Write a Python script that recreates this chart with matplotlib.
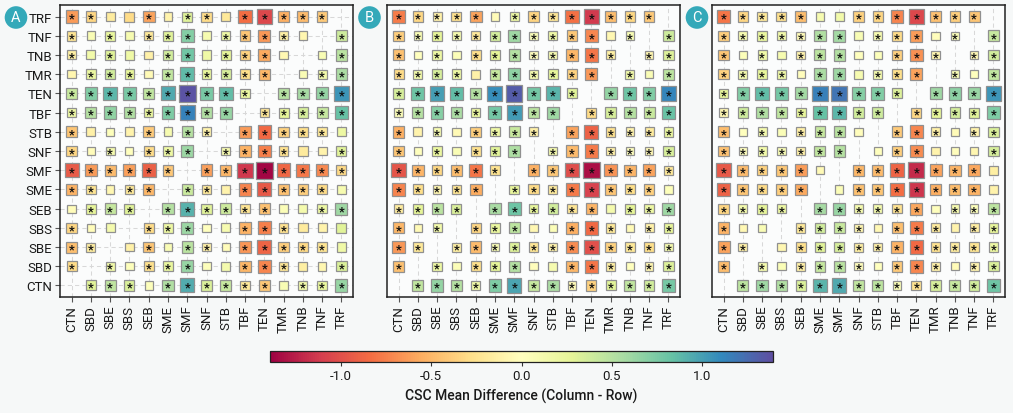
import numpy as np
import matplotlib
matplotlib.use('Agg')
import matplotlib.pyplot as plt
from matplotlib.patches import Rectangle, Circle
from matplotlib.transforms import offset_copy
import matplotlib.colors as mcolors
import matplotlib.cm as cm

plt.rcParams['font.family'] = ['Roboto', 'DejaVu Sans']
plt.rcParams['axes.unicode_minus'] = False

categories = ['CTN', 'SBD', 'SBE', 'SBS', 'SEB', 'SME', 'SMF', 'SNF',
              'STB', 'TBF', 'TEN', 'TMR', 'TNB', 'TNF', 'TRF']

means_A = [0.42, 0.72, 0.88, 0.75, 0.45, 0.95, 1.36, 0.75, 0.85, 0.22, 0.00, 0.50, 0.57, 0.65, 1.05]
means_B = [0.35, 0.80, 1.00, 0.85, 0.52, 1.08, 1.32, 0.78, 0.90, 0.30, 0.00, 0.65, 0.80, 0.72, 1.12]
means_C = [0.25, 0.72, 0.85, 0.78, 0.58, 1.15, 1.20, 0.70, 0.72, 0.32, 0.00, 0.60, 0.68, 0.62, 1.05]

# Significance marks, rows from top (TRF) to bottom (CTN); columns CTN..TRF
sig_A = ["**..*.**.*****-",
         "*.*.***.****.-*",
         "*.*..**.***.-.*",
         ".***.******-.**",
         "**********-****",
         "*********-*****",
         "*...*.**-*****.",
         "*.*.***-****..*",
         "******-********",
         "**.**-**.*****.",
         ".***-******..**",
         "*..-***..***...",
         "**-.*.**.*****.",
         "*-*.***..***..*",
         "-***.******.***"]
sig_B = ["*****.********-",
         "***********.*-*",
         "*.*.********-**",
         "****.******-*.*",
         "**********-****",
         "*********-*****",
         "*.*.****-******",
         "*.*.***-*******",
         "******-********",
         "*****-********.",
         "****-******.***",
         "*.*-***..***.**",
         "**-************",
         "*-*.***..***.**",
         "-**************"]
sig_C = ["*****..*******-",
         "*******.***.*-*",
         "*.*.***..***-**",
         "****.**.***-*.*",
         "**********-****",
         "*********-*****",
         "*.*.***.-***.**",
         "*******-.**...*",
         "*****.-*******.",
         "*****-.*******.",
         "****-******.***",
         "*..-****.***.**",
         "**-.***********",
         "*-*.****.***.**",
         "-**************"]

panel_letters = ['A', 'B', 'C']
cbar_ticks = [-1.0, -0.5, 0.0, 0.5, 1.0]

W, H = 1013, 414
fig = plt.figure(figsize=(W / 100, H / 100), dpi=100)
fig.patch.set_facecolor('#f6f8f8')

cmap = plt.get_cmap('Spectral')
norm = mcolors.Normalize(vmin=-1.39, vmax=1.39)

lefts = [60, 387, 712]
badge_x = [16, 369.5, 697]
ax_w, ax_top, ax_bot = 293, 6, 298
n = len(categories)

for k, (means, sig, letter) in enumerate(zip([means_A, means_B, means_C],
                                             [sig_A, sig_B, sig_C],
                                             panel_letters)):
    ax = fig.add_axes([lefts[k] / W, 1 - ax_bot / H, ax_w / W, (ax_bot - ax_top) / H])
    ax.set_facecolor('#fbfcfc')
    m = np.array(means)
    diff = m[None, :] - m[:, None]  # column - row
    trans = offset_copy(ax.transData, fig=fig, x=0, y=-1.3, units='points')
    for r in range(n):
        row_sig = sig[n - 1 - r]
        for c in range(n):
            if r == c:
                continue
            v = diff[r, c]
            s = 0.42 + 0.33 * abs(v)
            ax.add_patch(Rectangle((c - s / 2, r - s / 2), s, s,
                                   facecolor=cmap(norm(v)), edgecolor='#909090',
                                   linewidth=0.9, zorder=3))
            if row_sig[c] == '*':
                ax.text(c, r, '*', ha='center', va='center', fontsize=9,
                        fontweight='bold', color='#111111', transform=trans, zorder=4)
    ax.set_xlim(-0.6, n - 0.4)
    ax.set_ylim(-0.6, n - 0.4)
    ax.set_xticks(range(n))
    ax.set_xticklabels(categories, rotation=90, fontsize=9.5, color='#1a1a1a')
    ax.set_yticks(range(n))
    if k == 0:
        ax.set_yticklabels(categories, fontsize=9.5, color='#1a1a1a')
        ax.tick_params(axis='y', length=3.5, width=0.8, color='#555555', pad=2)
        ax.grid(True, axis='both', linestyle=(0, (4, 3)), color='#d8d8d8', linewidth=0.75, zorder=0)
    else:
        ax.set_yticklabels([])
        ax.tick_params(axis='y', length=0)
        ax.grid(True, axis='x', linestyle=(0, (4, 3)), color='#d8d8d8', linewidth=0.75, zorder=0)
    ax.tick_params(axis='x', length=3.5, width=0.8, color='#555555', pad=2)
    ax.set_axisbelow(True)
    for sp in ax.spines.values():
        sp.set_color('#222222')
        sp.set_linewidth(1.1)

    # panel letter badge
    cx = badge_x[k] / 100
    cy = (H - 18.5) / 100
    fig.add_artist(Circle((cx, cy), 0.113, transform=fig.dpi_scale_trans,
                          facecolor='#34a9b9', edgecolor='none', zorder=10))
    fig.text(cx, cy, letter, transform=fig.dpi_scale_trans, ha='center', va='center',
             color='white', fontsize=10.5, zorder=11)

# colorbar
cax = fig.add_axes([270 / W, 1 - 363 / H, 503 / W, 11 / H])
sm = cm.ScalarMappable(norm=norm, cmap=cmap)
cb = fig.colorbar(sm, cax=cax, orientation='horizontal')
cb.set_ticks(cbar_ticks)
cb.set_ticklabels([f'{t:.1f}' for t in cbar_ticks])
cb.ax.tick_params(labelsize=9.5, length=3, width=0.8, color='#333333', labelcolor='#1a1a1a', pad=2)
cb.outline.set_linewidth(0.9)
cb.outline.set_edgecolor('#222222')
cb.set_label('CSC Mean Difference (Column - Row)', fontsize=10, fontweight='medium',
             color='#1a1a1a', labelpad=4)

fig.savefig('out.png', dpi=100, facecolor=fig.get_facecolor())
